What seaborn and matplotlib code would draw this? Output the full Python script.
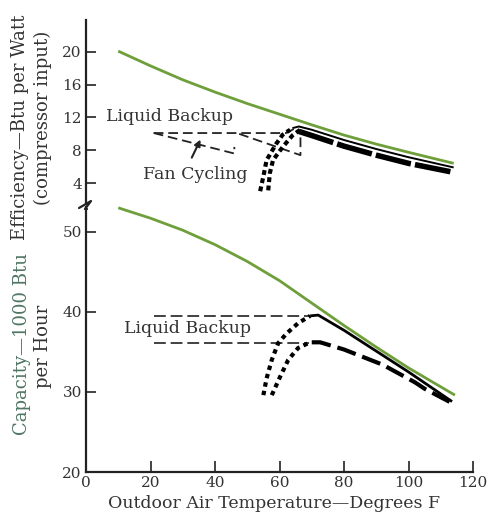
import matplotlib
matplotlib.use("Agg")
import matplotlib.pyplot as plt
import seaborn as sns
from matplotlib.lines import Line2D

# ---------------- data ----------------
# Efficiency (Btu per Watt)
eff_green_x = [10, 20, 30, 40, 50, 60, 70, 80, 90, 100, 114]
eff_green_y = [20.1, 18.3, 16.6, 15.1, 13.7, 12.4, 11.1, 9.85, 8.75, 7.75, 6.4]
eff_black_x = [64, 66, 70, 80, 90, 100, 114]
eff_black_y = [10.7, 10.9, 10.5, 9.25, 8.15, 7.15, 5.9]
eff_dash_x = [66, 70, 80, 90, 100, 114]
eff_dash_y = [10.3, 9.8, 8.5, 7.4, 6.4, 5.3]
eff_liquid_x = [21, 62, 65]
eff_liquid_y = [10.1, 10.1, 10.7]
eff_fanA_x = [21, 46, 46]
eff_fanA_y = [10.1, 7.6, 8.4]
eff_fanB_x = [47.5, 66.5, 66.5]
eff_fanB_y = [10.0, 7.4, 10.5]
eff_dot1_x = [54, 55, 56, 59, 61, 63.3]
eff_dot1_y = [3.0, 4.8, 6.8, 8.8, 9.9, 10.5]
eff_dot2_x = [56.5, 57, 58, 61, 64, 66.4]
eff_dot2_y = [3.1, 5.2, 6.8, 8.4, 9.8, 10.5]

# Capacity (1000 Btu per Hour)
cap_green_x = [10, 20, 30, 40, 50, 60, 70, 80, 90, 100, 114.4]
cap_green_y = [53.0, 51.7, 50.2, 48.4, 46.3, 43.9, 41.1, 38.3, 35.6, 33.0, 29.6]
cap_black_x = [69.5, 72, 80, 90, 100, 113.5]
cap_black_y = [39.5, 39.6, 37.7, 35.1, 32.5, 28.8]
cap_dash_x = [70, 72.6, 80, 92, 102, 105, 113.5]
cap_dash_y = [36.2, 36.2, 35.3, 33.4, 31.2, 30.4, 28.6]
cap_liq1_x = [21, 69.5]
cap_liq1_y = [39.5, 39.5]
cap_liq2_x = [21, 69]
cap_liq2_y = [36.1, 36.1]
cap_dot1_x = [55, 56, 57.6, 59.6, 62.2, 65.8, 69.5]
cap_dot1_y = [29.6, 31.7, 34.0, 36.1, 37.3, 38.6, 39.5]
cap_dot2_x = [57.6, 60.2, 62.7, 65.8, 69.5]
cap_dot2_y = [29.6, 31.9, 34.0, 35.5, 36.2]

x_ticks = [0, 20, 40, 60, 80, 100, 120]
eff_ticks = [4, 8, 12, 16, 20]
cap_ticks = [20, 30, 40, 50]

# ---------------- style ----------------
sns.set_style("white")
plt.rcParams["font.family"] = ["DejaVu Serif"]
plt.rcParams["lines.scale_dashes"] = False
TXT = "#333333"
GREEN = "#6f9f3a"
SPINE = "#222222"

W, H = 488, 514
fig = plt.figure(figsize=(W / 100, H / 100), dpi=100)

def rect(x0, y0, x1, y1):
    return [x0 / W, 1 - y1 / H, (x1 - x0) / W, (y1 - y0) / H]

ax1 = fig.add_axes(rect(86, 20, 473, 203))
ax2 = fig.add_axes(rect(86, 207, 473, 472))

def line(ax, x, y, **kw):
    sns.lineplot(x=x, y=y, ax=ax, sort=False, estimator=None, legend=False, **kw)

# top panel
line(ax1, eff_green_x, eff_green_y, color=GREEN, lw=2.0)
line(ax1, eff_black_x, eff_black_y, color="black", lw=1.4)
line(ax1, eff_dash_x, eff_dash_y, color="black", lw=4.0, dashes=(26, 3))
line(ax1, eff_liquid_x, eff_liquid_y, color="#222222", lw=1.3, dashes=(7, 3.5))
line(ax1, eff_fanA_x, eff_fanA_y, color="#222222", lw=1.3, dashes=(7, 3.5))
line(ax1, eff_fanB_x, eff_fanB_y, color="#222222", lw=1.3, dashes=(7, 3.5))
line(ax1, eff_dot1_x, eff_dot1_y, color="black", lw=3.0, dashes=(3.5, 2.5))
line(ax1, eff_dot2_x, eff_dot2_y, color="black", lw=3.0, dashes=(3.5, 2.5))

# bottom panel
line(ax2, cap_green_x, cap_green_y, color=GREEN, lw=2.0)
line(ax2, cap_black_x, cap_black_y, color="black", lw=2.0)
line(ax2, cap_dash_x, cap_dash_y, color="black", lw=3.0, dashes=(14, 5))
line(ax2, cap_liq1_x, cap_liq1_y, color="#333333", lw=1.3, dashes=(8.5, 3.5))
line(ax2, cap_liq2_x, cap_liq2_y, color="#333333", lw=1.3, dashes=(8.5, 3.5))
line(ax2, cap_dot1_x, cap_dot1_y, color="black", lw=3.0, dashes=(3.2, 3))
line(ax2, cap_dot2_x, cap_dot2_y, color="black", lw=3.0, dashes=(3.2, 3))

for ln in ax1.lines + ax2.lines:
    ln.set_clip_on(False)
    ln.set_solid_capstyle("butt")
    ln.set_dash_capstyle("butt")
    ln.set_solid_joinstyle("round")

# axes
ax1.set_xlim(0, 120)
ax2.set_xlim(0, 120)
ax1.set_ylim(1.56, 23.9)
ax2.set_ylim(20, 53.1)

for ax in (ax1, ax2):
    for s in ("top", "right"):
        ax.spines[s].set_visible(False)
    ax.spines["left"].set_color(SPINE)
    ax.spines["left"].set_linewidth(1.6)
    ax.set_xlabel("")
    ax.set_ylabel("")
ax1.spines["bottom"].set_visible(False)
ax2.spines["bottom"].set_color(SPINE)
ax2.spines["bottom"].set_linewidth(1.6)

ax1.set_xticks([])
ax1.set_yticks(eff_ticks)
ax1.set_yticklabels([str(t) for t in eff_ticks])
ax2.set_yticks(cap_ticks)
ax2.set_yticklabels([str(t) for t in cap_ticks])
ax2.set_xticks(x_ticks)
ax2.set_xticklabels([str(t) for t in x_ticks])

for ax in (ax1, ax2):
    ax.tick_params(axis="y", direction="in", length=7, width=1.2, color=SPINE,
                   labelsize=11, labelcolor=TXT, pad=3, left=True)
ax2.tick_params(axis="x", direction="in", length=8, width=1.2, color=SPINE,
                labelsize=11, labelcolor=TXT, pad=3, bottom=True)

# axis break mark on left spine
bx = 86
fig.add_artist(Line2D([(bx - 7) / W, (bx + 5) / W, (bx - 1) / W, (bx + 1) / W],
                      [1 - 208 / H, 1 - 201 / H, 1 - 209 / H, 1 - 209 / H],
                      color=SPINE, lw=1.6))

# labels
fig.text(20 / W, 1 - 127 / H, "Efficiency—Btu per Watt", rotation=90,
         ha="center", va="center", fontsize=13, color=TXT)
fig.text(43 / W, 1 - 118 / H, "(compressor input)", rotation=90,
         ha="center", va="center", fontsize=13, color=TXT)
fig.text(22 / W, 1 - 344 / H, "Capacity—1000 Btu", rotation=90,
         ha="center", va="center", fontsize=13, color="#4f7563")
fig.text(43 / W, 1 - 346 / H, "per Hour", rotation=90,
         ha="center", va="center", fontsize=13, color=TXT)
fig.text(274 / W, 1 - 503 / H, "Outdoor Air Temperature—Degrees F",
         ha="center", va="center", fontsize=12.5, color=TXT)

# annotations
ax1.text(26, 12.1, "Liquid Backup", ha="center", va="center", fontsize=12.5, color=TXT)
ax1.text(33.8, 4.98, "Fan Cycling", ha="center", va="center", fontsize=12.5, color=TXT)
ax1.annotate("", xy=(35.5, 9.3), xytext=(32.8, 7.1),
             arrowprops=dict(arrowstyle="-|>", color="#222222", lw=1.5,
                             mutation_scale=9, shrinkA=0, shrinkB=0))
ax2.text(31.4, 37.96, "Liquid Backup", ha="center", va="center", fontsize=12.5,
         color=TXT, bbox=dict(facecolor="white", edgecolor="none", pad=0.5))

fig.savefig("out.png", dpi=100)
